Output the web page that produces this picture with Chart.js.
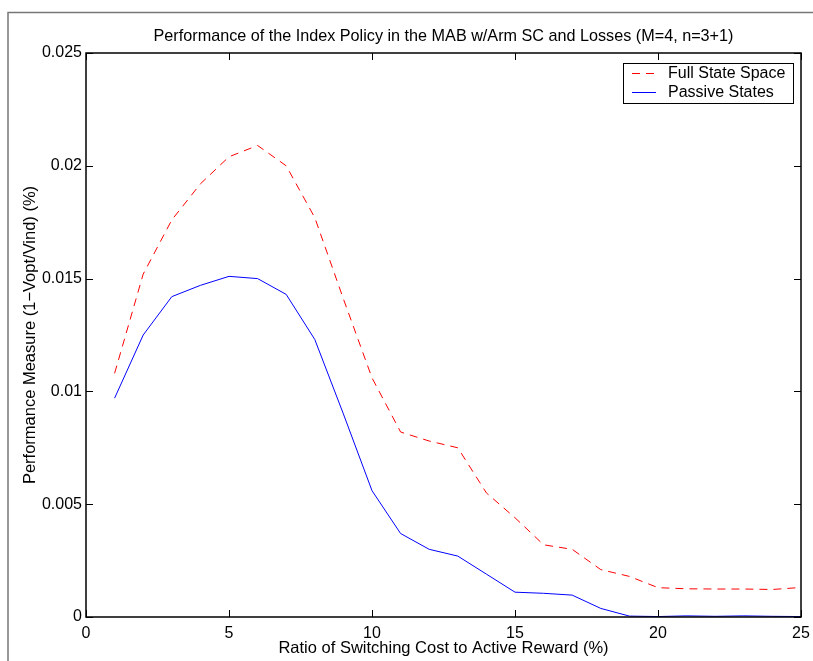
<!DOCTYPE html>
<html>
<head>
<meta charset="utf-8">
<script src="https://cdn.jsdelivr.net/npm/chart.js@4.4.1/dist/chart.umd.min.js"></script>
<style>
  html, body { margin: 0; padding: 0; background: #fff; }
  #wrap { width: 813px; height: 661px; }
</style>
</head>
<body>
<div id="wrap"><canvas id="myChart" width="813" height="661"></canvas></div>
<script>
// ratio of switching cost to active reward (%)
const switchRatio = [1, 2, 3, 4, 5, 6, 7, 8, 9, 10, 11, 12, 13, 14, 15, 16, 17, 18, 19, 20, 21, 22, 23, 24, 25];
// performance measure, full state space
const fullState = [0.0108, 0.0152, 0.0176, 0.0192, 0.0204, 0.0209, 0.0200, 0.0177, 0.0141, 0.0106,
    0.0082, 0.0078, 0.0075, 0.0055, 0.0044, 0.0032, 0.0030, 0.0021, 0.0018, 0.0013,
    0.00125, 0.00124, 0.00124, 0.00122, 0.00131];
// performance measure, passive states only
const passiveStates = [0.0097, 0.0125, 0.0142, 0.0147, 0.0151, 0.0150, 0.0143, 0.0123, 0.0090, 0.0056,
    0.0037, 0.0030, 0.0027, 0.0019, 0.0011, 0.00105, 0.00097, 0.00038, 0.00004, 0.00002,
    0.00005, 0.00003, 0.00005, 0.00003, 0.00002];
const xTicks = [0, 5, 10, 15, 20, 25];
const yTicks = [0, 0.005, 0.01, 0.015, 0.02, 0.025];
const titleText = 'Performance of the Index Policy in the MAB w/Arm SC and Losses (M=4, n=3+1)';

const fontFam = '"Liberation Sans", Arial, Helvetica, sans-serif';

function toPoints(vals) {
    return vals.map((v, i) => ({ x: switchRatio[i], y: v }));
}

// MATLAB style box: inward ticks on all four sides, title over the axes, legend box, window frame
const matlabBox = {
    id: 'matlabBox',
    beforeDraw(chart) {
        const c = chart.ctx;
        const a = chart.chartArea;
        c.save();
        c.strokeStyle = '#777';
        c.lineWidth = 1.5;
        c.beginPath();
        c.moveTo(8, 661);
        c.lineTo(8, 12.5);
        c.lineTo(813, 12.5);
        c.stroke();
        // title centred on the axes, like matlab does it
        c.fillStyle = '#000';
        c.font = '16.2px ' + fontFam;
        c.textAlign = 'center';
        c.textBaseline = 'middle';
        c.fillText(titleText, (a.left + a.right) / 2, 37);
        c.restore();
    },
    afterDatasetsDraw(chart) {
        const c = chart.ctx;
        const a = chart.chartArea;
        const xs = chart.scales.x, ys = chart.scales.y;
        c.save();
        c.strokeStyle = '#000';
        c.lineWidth = 1;
        c.beginPath();
        for (const t of xTicks) {
            const px = Math.round(xs.getPixelForValue(t)) + 0.5;
            c.moveTo(px, a.bottom); c.lineTo(px, a.bottom - 7);
            c.moveTo(px, a.top); c.lineTo(px, a.top + 7);
        }
        for (const t of yTicks) {
            const py = Math.round(ys.getPixelForValue(t)) + 0.5;
            c.moveTo(a.left, py); c.lineTo(a.left + 7, py);
            c.moveTo(a.right, py); c.lineTo(a.right - 7, py);
        }
        c.stroke();
        c.lineWidth = 1.5;
        c.strokeRect(a.left, a.top, a.right - a.left, a.bottom - a.top);

        // legend
        const lx = a.right - 178, ly = a.top + 10, lw = 170, lh = 40;
        c.fillStyle = '#fff';
        c.fillRect(lx, ly, lw, lh);
        c.lineWidth = 1;
        c.strokeRect(lx + 0.5, ly + 0.5, lw, lh);
        const rows = chart.data.datasets;
        c.font = '16px ' + fontFam;
        c.textBaseline = 'middle';
        rows.forEach((ds, i) => {
            const ry = ly + 10.5 + i * 19;
            c.strokeStyle = ds.borderColor;
            c.setLineDash(ds.borderDash || []);
            c.beginPath();
            c.moveTo(lx + 9, ry); c.lineTo(lx + 33, ry);
            c.stroke();
            c.setLineDash([]);
            c.fillStyle = '#000';
            c.fillText(ds.label, lx + 45, ry);
        });
        c.restore();
    }
};

const ctx = document.getElementById('myChart');
const perfChart = new Chart(ctx, {
    type: 'line',
    data: {
        datasets: [{
            label: 'Full State Space',
            data: toPoints(fullState),
            borderColor: '#ff0000',
            borderDash: [8, 6],
            borderWidth: 1,
            pointRadius: 0,
            tension: 0
        }, {
            label: 'Passive States',
            data: toPoints(passiveStates),
            borderColor: '#0000ff',
            borderWidth: 1,
            pointRadius: 0,
            tension: 0
        }]
    },
    options: {
        responsive: false,
        animation: false,
        layout: { padding: { left: 0, right: 12, top: 53, bottom: 0 } },
        plugins: {
            legend: { display: false },
            tooltip: { enabled: false },
            title: { display: false }
        },
        scales: {
            x: {
                type: 'linear',
                min: 0, max: 25,
                afterFit(scale) {
                    scale.height = 44;
                    scale.paddingLeft = 0;
                    scale.paddingRight = 0;
                },
                afterBuildTicks(scale) { scale.ticks = xTicks.map(v => ({ value: v })); },
                grid: { display: false, drawTicks: false },
                border: { display: false },
                ticks: {
                    color: '#000', padding: 7, maxRotation: 0,
                    font: { family: fontFam, size: 16 }
                },
                title: {
                    display: true,
                    text: 'Ratio of Switching Cost to Active Reward (%)',
                    color: '#000',
                    font: { family: fontFam, size: 16.5 },
                    padding: { top: 0, bottom: 3 }
                }
            },
            y: {
                min: 0, max: 0.025,
                afterFit(scale) {
                    scale.width = 86;
                    scale.paddingTop = 0;
                    scale.paddingBottom = 0;
                },
                afterBuildTicks(scale) { scale.ticks = yTicks.map(v => ({ value: v })); },
                grid: { display: false, drawTicks: false },
                border: { display: false },
                ticks: {
                    color: '#000', padding: 4,
                    font: { family: fontFam, size: 16 },
                    callback: v => String(+v.toFixed(3))
                },
                title: {
                    display: true,
                    text: 'Performance Measure (1\u2212Vopt/Vind) (%)',
                    color: '#000',
                    font: { family: fontFam, size: 16.5 },
                    padding: { top: 21, bottom: 0 }
                }
            }
        }
    },
    plugins: [matlabBox]
});
</script>
</body>
</html>
